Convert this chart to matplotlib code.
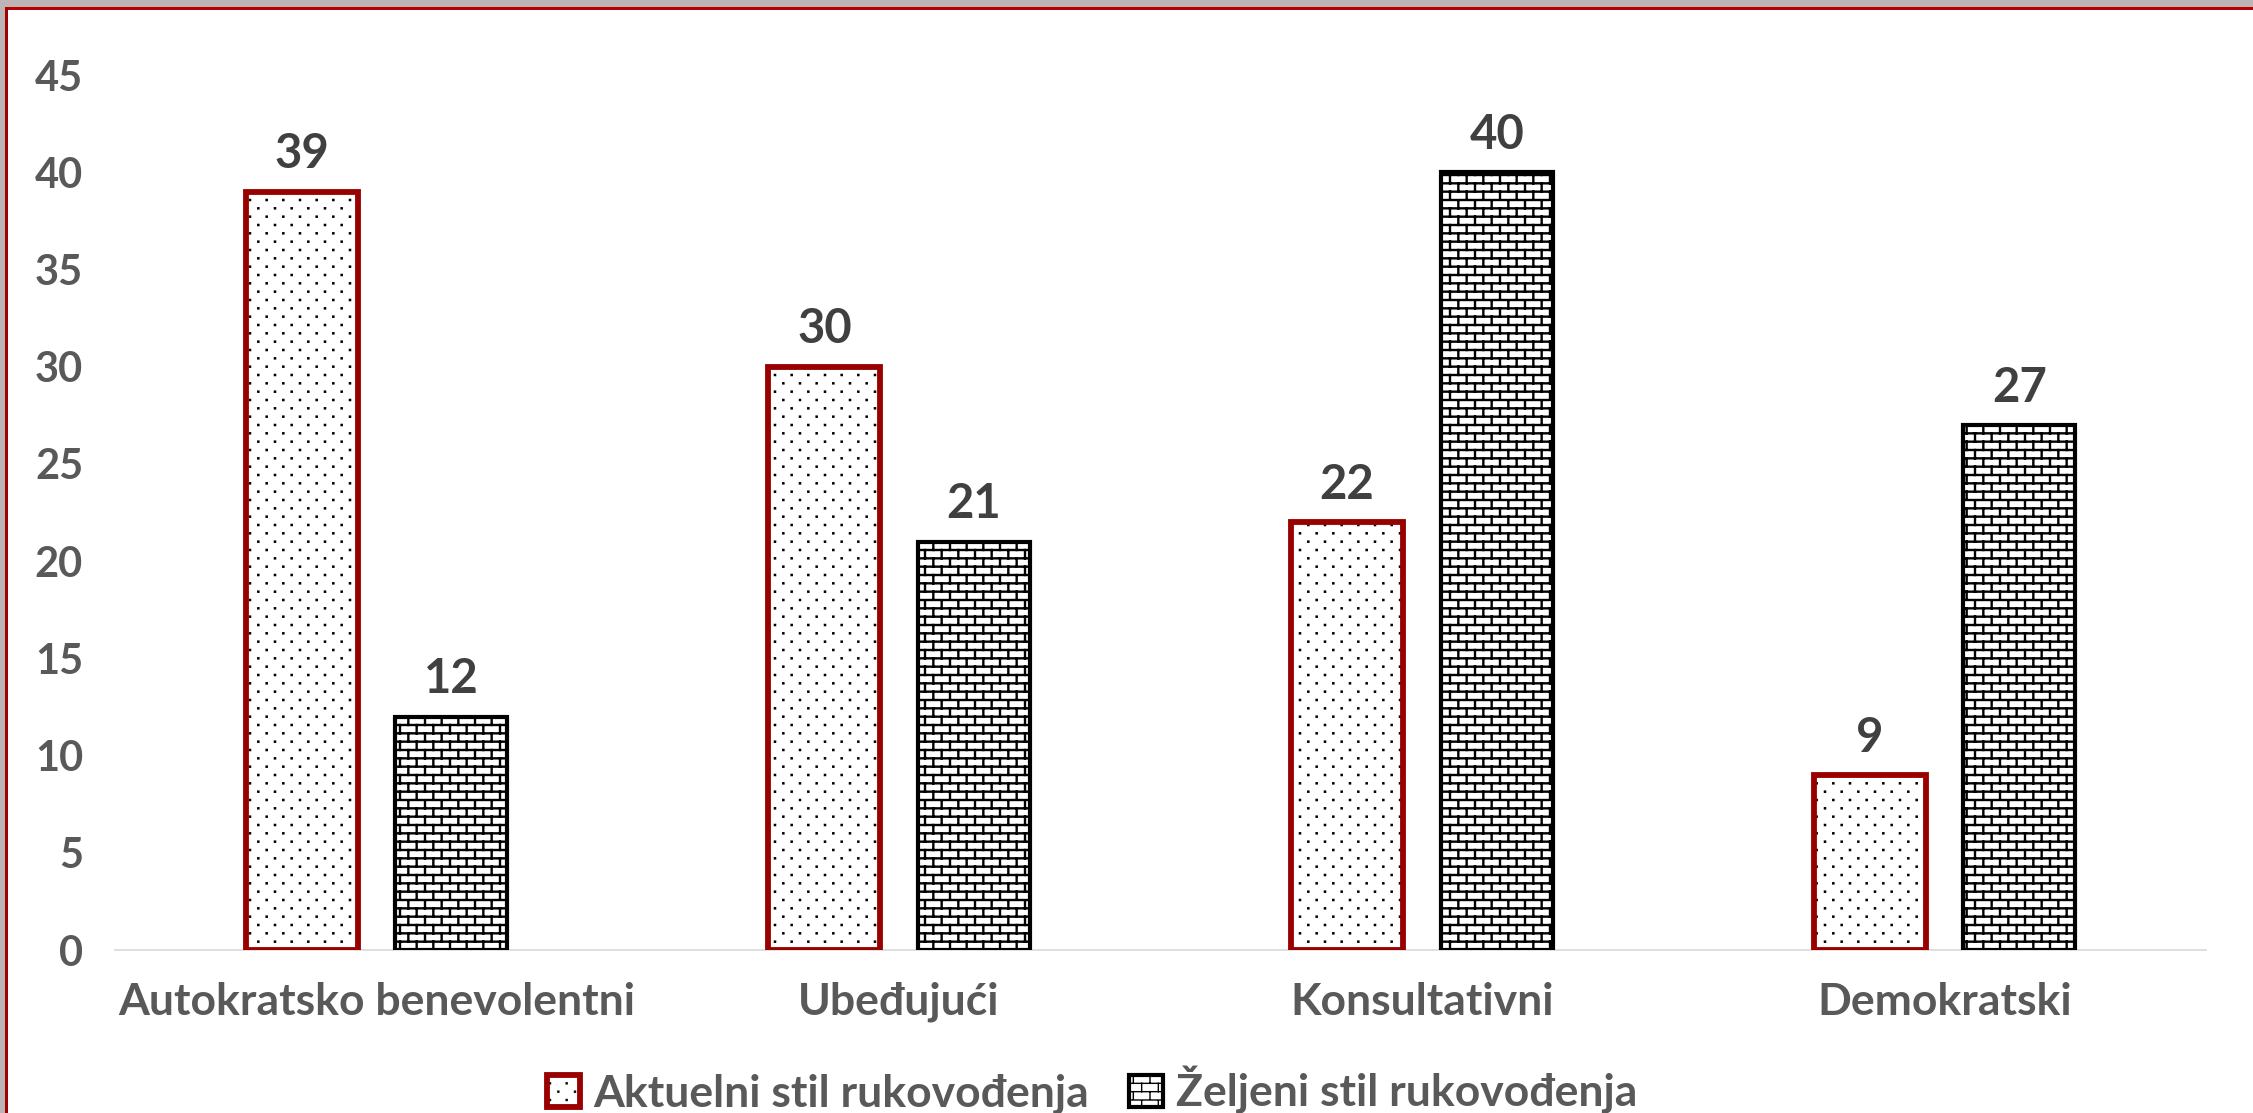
import warnings
import numpy as np
import matplotlib
matplotlib.use("Agg")
import matplotlib.pyplot as plt
import matplotlib.hatch as mhatch
from matplotlib.path import Path
from matplotlib.patches import Rectangle
from matplotlib.legend_handler import HandlerTuple

warnings.filterwarnings("ignore")

# ---------------- DATA ----------------

categories = ["Autokratsko benevolentni", "Ubeđujući", "Konsultativni", "Demokratski"]
series_names = ["Aktuelni stil rukovođenja", "Željeni stil rukovođenja"]
aktuelni = [39, 30, 22, 9]
zeljeni = [12, 21, 40, 27]
y_ticks = [0, 5, 10, 15, 20, 25, 30, 35, 40, 45]


# ---------------- CUSTOM HATCHES (dots 'd', bricks 'b') ----------------

class BrickHatch(mhatch.HatchPatternBase):
    def __init__(self, hatch, density):
        n = hatch.count("b")
        segs = []
        if n:
            rows, cols = 12 * n, 6 * n
            for r in range(rows + 1):
                segs += [(0, r / rows), (1, r / rows)]
            for r in range(rows):
                y0, y1 = r / rows, (r + 1) / rows
                if r % 2 == 0:
                    xs = np.arange(cols + 1) / cols
                else:
                    xs = (np.arange(cols) + 0.5) / cols
                for x in xs:
                    segs += [(x, y0), (x, y1)]
        self.verts = np.array(segs, dtype=float).reshape(-1, 2)
        self.num_vertices = len(self.verts)

    def set_vertices_and_codes(self, vertices, codes):
        vertices[:] = self.verts
        codes[0::2] = Path.MOVETO
        codes[1::2] = Path.LINETO


class DotHatch(mhatch.HatchPatternBase):
    def __init__(self, hatch, density):
        n = hatch.count("d")
        pts = []
        if n:
            rows, cols = 12 * n, 6 * n
            for r in range(rows + 1):
                if r % 2 == 0:
                    xs = np.arange(cols + 1) / cols
                else:
                    xs = (np.arange(cols) + 0.5) / cols
                for x in xs:
                    pts.append((x, r / rows))
        s = 0.005
        verts = []
        for x, y in pts:
            verts += [(x - s, y - s), (x + s, y - s), (x + s, y + s),
                      (x - s, y + s), (x - s, y - s)]
        self.verts = np.array(verts, dtype=float).reshape(-1, 2)
        self.num_vertices = len(self.verts)

    def set_vertices_and_codes(self, vertices, codes):
        vertices[:] = self.verts
        codes[0::5] = Path.MOVETO
        codes[1::5] = Path.LINETO
        codes[2::5] = Path.LINETO
        codes[3::5] = Path.LINETO
        codes[4::5] = Path.CLOSEPOLY


mhatch._hatch_types.append(BrickHatch)
mhatch._hatch_types.append(DotHatch)

# ---------------- STYLE ----------------

plt.rcParams["font.family"] = ["Lato", "DejaVu Sans"]
plt.rcParams["font.weight"] = "bold"

TICK_COLOR = "#595959"
LABEL_COLOR = "#404040"
RED = "#990000"

fig = plt.figure(figsize=(22.53, 11.13), dpi=100)
fig.patch.set_facecolor("white")
ax = fig.add_axes([0.05104, 0.14645, 0.92810, 0.78616])

x = np.arange(len(categories))
off = 0.143
w = 0.214


def set_hlw(bars, lw):
    for b in bars:
        if hasattr(b, "set_hatch_linewidth"):
            b.set_hatch_linewidth(lw)


# red bars: dotted fill + dark red outline
red_fill = ax.bar(x - off, aktuelni, w, color="white", edgecolor="black",
                  linewidth=0, hatch="d", zorder=3)
set_hlw(red_fill, 1.1)
red_edge = ax.bar(x - off, aktuelni, w, fill=False, edgecolor=RED,
                  linewidth=4.2, zorder=4)

# black bars: brick pattern
blk = ax.bar(x + off, zeljeni, w, color="white", edgecolor="black",
             linewidth=3.0, hatch="b", zorder=3)
set_hlw(blk, 1.7)

ax.bar_label(red_edge, labels=[str(v) for v in aktuelni], padding=11,
             fontsize=34, color=LABEL_COLOR, fontweight="bold")
ax.bar_label(blk, labels=[str(v) for v in zeljeni], padding=11,
             fontsize=34, color=LABEL_COLOR, fontweight="bold")

ax.set_xlim(-0.5, len(categories) - 0.5)
ax.set_ylim(0, 45)
ax.set_yticks(y_ticks)
ax.set_xticks(x)
ax.set_xticklabels(categories)
ax.tick_params(axis="y", length=0, pad=23, labelsize=30, labelcolor=TICK_COLOR)
ax.tick_params(axis="x", length=0, pad=23, labelsize=32, labelcolor=TICK_COLOR)

for s in ["top", "right", "left"]:
    ax.spines[s].set_visible(False)
ax.spines["bottom"].set_color("#d9d9d9")
ax.spines["bottom"].set_linewidth(1.2)
ax.spines["bottom"].set_zorder(2)

leg = fig.legend([(red_fill, red_edge), blk], series_names,
                 handler_map={tuple: HandlerTuple(ndivide=1)},
                 loc="center", bbox_to_anchor=(0.4847, 0.0207), ncol=2,
                 frameon=False, fontsize=32, handlelength=0.75, handleheight=0.75,
                 handletextpad=0.3, columnspacing=0.9, borderaxespad=0)
for t in leg.get_texts():
    t.set_color(TICK_COLOR)

# screenshot frame: grey strip and red rule at top and left
fig.add_artist(Rectangle((0, 1 - 7 / 1113), 1, 7 / 1113, transform=fig.transFigure,
                         facecolor="#bdb5b5", edgecolor="none"))
fig.add_artist(Rectangle((0, 1 - 10 / 1113), 1, 3 / 1113, transform=fig.transFigure,
                         facecolor="#b80000", edgecolor="none"))
fig.add_artist(Rectangle((0, 0), 5 / 2253, 1, transform=fig.transFigure,
                         facecolor="#bdb5b5", edgecolor="none"))
fig.add_artist(Rectangle((5 / 2253, 0), 3 / 2253, 1 - 7 / 1113, transform=fig.transFigure,
                         facecolor="#a00000", edgecolor="none"))

fig.savefig("out.png", dpi=100)
